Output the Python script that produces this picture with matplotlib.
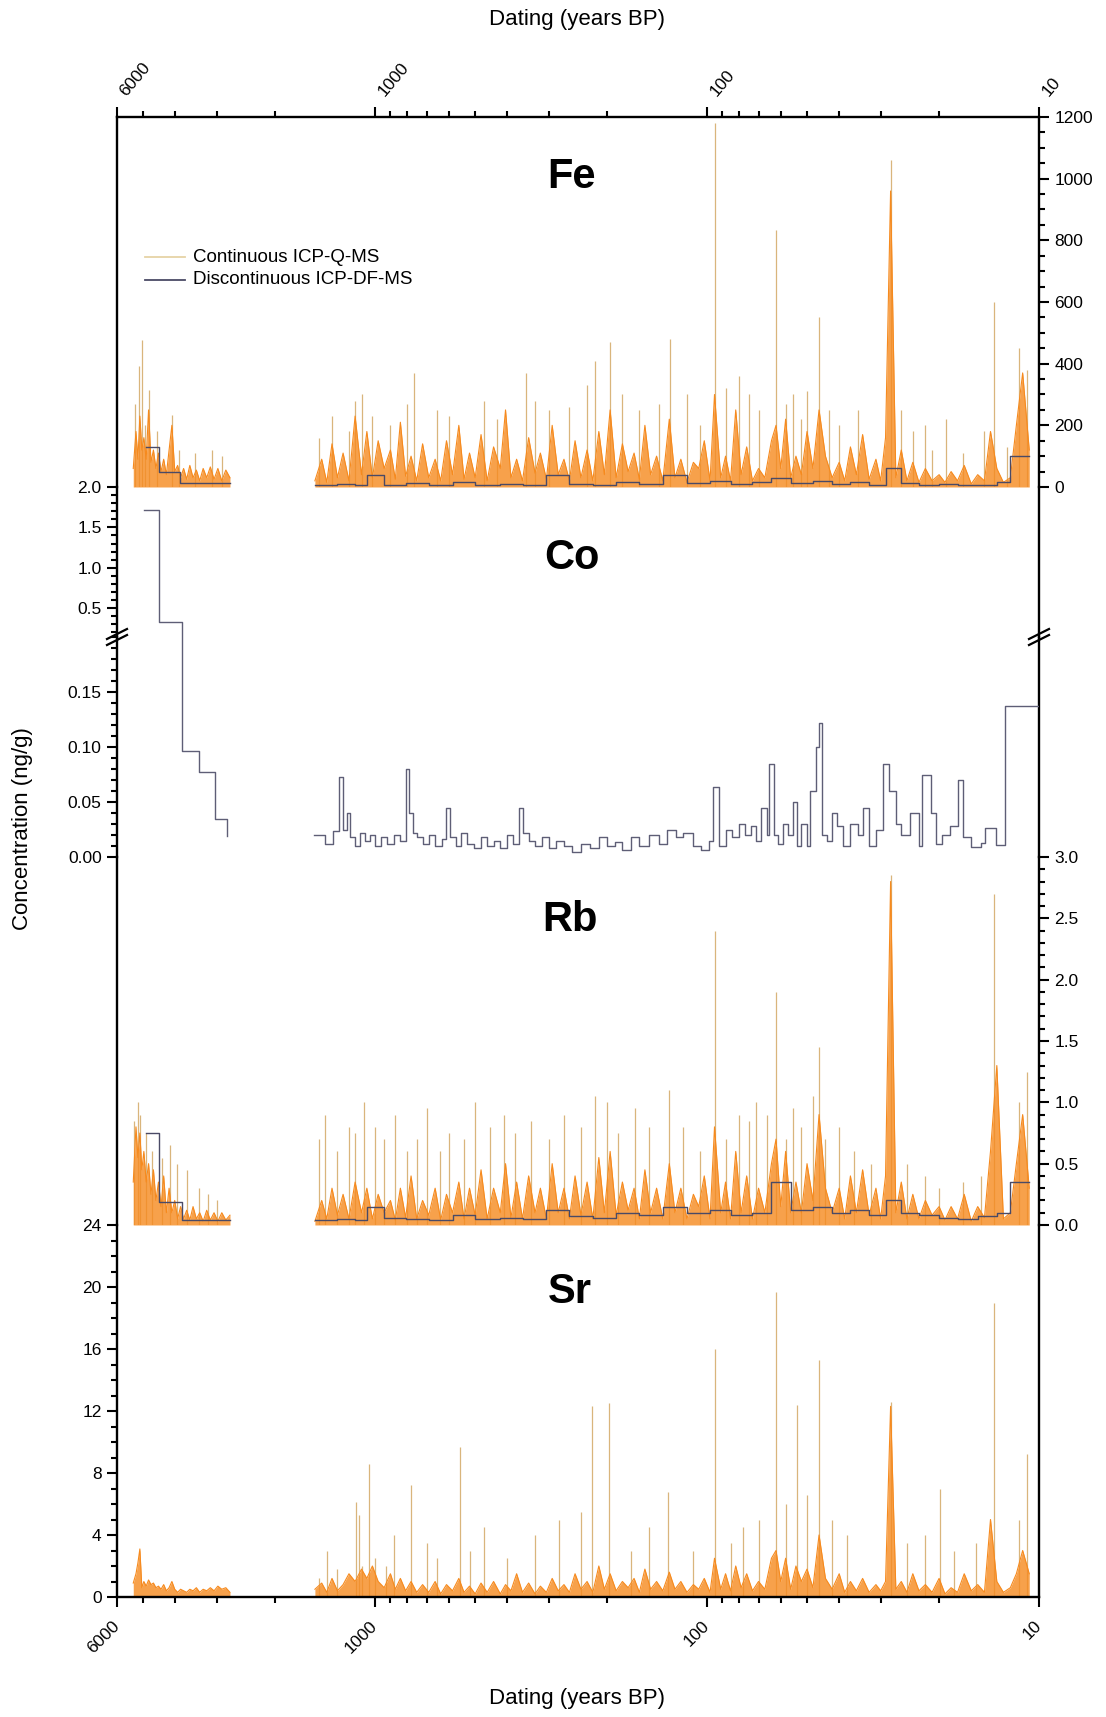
import numpy as np
import matplotlib
matplotlib.use('Agg')
import matplotlib.pyplot as plt
from matplotlib.ticker import FixedLocator, FixedFormatter, MultipleLocator, NullFormatter, NullLocator, FormatStrFormatter
from matplotlib.lines import Line2D

plt.rcParams['font.family'] = ['Liberation Sans', 'DejaVu Sans']

# ---------------- data ----------------
X_MAJOR = [6000, 1000, 100, 10]
X_MAJOR_LABELS = ['6000', '1000', '100', '10']
X_MINOR = [5000, 4000, 3000, 2000, 900, 800, 700, 600, 500, 400, 300, 200,
           90, 80, 70, 60, 50, 40, 30, 20]

# ages (years BP) of continuous record, older section and recent section
AGES_A = [5360, 5260, 5190, 5120, 5050, 4980, 4900, 4820, 4740, 4660,
          4580, 4500, 4420, 4340, 4260, 4180, 4100, 4020, 3940, 3860,
          3780, 3700, 3620, 3540, 3460, 3380, 3300, 3220, 3140, 3060,
          2980, 2900, 2820, 2740]
AGES_B = [1520, 1450, 1400, 1350, 1300, 1250, 1200, 1150, 1100, 1060,
          1020, 980, 940, 900, 870, 840, 810, 780, 750, 720,
          690, 660, 635, 610, 585, 560, 540, 520, 500, 480,
          460, 440, 420, 405, 390, 375, 360, 345, 330, 318,
          305, 293, 281, 270, 260, 250, 240, 230, 221, 212,
          204, 196, 188, 180, 173, 166, 160, 154, 148, 142,
          136, 130, 125, 120, 115, 110, 106, 102, 98, 95,
          91, 88, 85, 82, 79, 76, 73, 70, 67, 64,
          62, 60, 58, 56, 54, 52, 50, 48, 46, 44,
          42, 40, 38.5, 37, 35.5, 34, 32.5, 31, 30, 29,
          28, 27, 26, 25, 24, 23, 22, 21, 20, 19.2,
          18.4, 17.6, 16.8, 16, 15.3, 14.6, 14, 13.4, 12.8, 12.2,
          11.7, 11.2, 10.7]

# Fe continuous (ng/g)
FE_A = [60, 180, 90, 230, 120, 160, 90, 250, 80, 120,
        60, 110, 50, 90, 40, 120, 200, 50, 70, 30,
        60, 25, 70, 30, 55, 20, 60, 30, 65, 25,
        60, 20, 55, 30]
FE_B = [20, 90, 15, 140, 30, 110, 20, 230, 40, 180,
        30, 150, 60, 120, 25, 210, 35, 100, 20, 140,
        30, 90, 20, 150, 40, 200, 25, 110, 30, 170,
        20, 130, 60, 250, 30, 90, 20, 160, 45, 110,
        25, 200, 40, 90, 20, 150, 30, 120, 20, 180,
        40, 250, 30, 140, 50, 110, 25, 200, 40, 100,
        20, 220, 30, 90, 15, 80, 60, 150, 20, 300,
        30, 100, 20, 250, 40, 130, 20, 60, 30, 150,
        200, 60, 220, 30, 100, 40, 180, 60, 250, 100,
        30, 80, 20, 130, 40, 170, 25, 90, 20, 160,
        960, 30, 120, 20, 80, 15, 60, 20, 40, 15,
        50, 20, 70, 10, 40, 20, 180, 60, 15, 30,
        200, 370, 120]
FE_SPIKE_AGE = [5300, 5150, 5060, 4950, 4810, 4550, 4100, 3900, 3500, 3100, 2900,
                1480, 1350, 1200, 1150, 1100, 1020, 900, 800, 764, 650, 600, 470,
                430, 351, 330, 300, 260, 230, 218, 196, 180, 160, 140, 129, 115,
                105, 95, 88, 80, 75, 70, 62, 58, 55, 52, 50, 46, 43, 40, 35, 28,
                26, 24, 22, 21, 19, 17, 14.6, 13.7, 12.5, 11.5, 10.9]
FE_SPIKE_VAL = [270, 394, 476, 200, 313, 180, 232, 120, 110, 120, 100,
                160, 230, 180, 280, 300, 230, 200, 270, 370, 250, 230, 280,
                220, 370, 280, 250, 260, 330, 410, 470, 300, 250, 270, 480, 300,
                200, 1180, 320, 360, 300, 250, 835, 270, 300, 220, 310, 550, 250, 200, 250, 1060,
                250, 180, 200, 120, 220, 110, 180, 600, 130, 450, 380]
# Fe discontinuous (step values between age edges)
FE_D_EDGES_A = [4890, 4480, 3870, 2740]
FE_D_VALS_A = [130, 50, 12]
D_EDGES_B = [1520, 1300, 1150, 1060, 940, 810, 690, 585, 500, 420, 360, 305,
             260, 221, 188, 160, 136, 115, 98, 85, 73, 64, 56, 48, 42, 37,
             32.5, 29, 26, 23, 20, 17.6, 15.3, 13.4, 12.2, 10.7]
FE_D_VALS_B = [5, 10, 6, 40, 8, 12, 5, 15, 8, 10,
               6, 40, 10, 8, 15, 10, 40, 12, 20, 10,
               15, 30, 12, 20, 10, 15, 8, 60, 12, 8,
               10, 6, 8, 15, 100]

# Co discontinuous
CO_EDGES_A = [4975, 4480, 3820, 3390, 3050, 2800, 2790]
CO_VALS_A = [1.71, 0.33, 0.096, 0.077, 0.035, 0.019]
CO_EDGES_B = [1526, 1420, 1340, 1290, 1250, 1220, 1190, 1150, 1110, 1077,
              1040, 1000, 960, 920, 880, 840, 810, 790, 770, 750,
              720, 690, 660, 630, 613, 595, 570, 550, 530, 505,
              480, 460, 440, 420, 400, 385, 370, 358, 345, 330,
              315, 300, 285, 270, 255, 240, 225, 212, 200, 190,
              180, 170, 160, 150, 140, 132, 124, 118, 110, 104,
              99, 96, 92, 88, 84, 80, 77, 74, 71, 69,
              66, 65, 63, 61, 59, 57, 55, 53.5, 52, 50,
              49, 47, 46, 45, 43.5, 42, 40.5, 39, 37, 35,
              34, 32.5, 31, 29.5, 28.3, 27, 26, 24.5, 23, 22.5,
              21.2, 20.5, 19.6, 18.5, 17.5, 17.0, 16.0, 15.0, 14.5, 13.5,
              12.7, 10.0]
CO_VALS_B = [0.020, 0.012, 0.024, 0.073, 0.025, 0.040, 0.018, 0.010, 0.022, 0.015,
             0.020, 0.010, 0.018, 0.012, 0.020, 0.015, 0.080, 0.040, 0.022, 0.018,
             0.012, 0.020, 0.010, 0.016, 0.045, 0.018, 0.010, 0.022, 0.012, 0.008,
             0.018, 0.010, 0.015, 0.008, 0.020, 0.012, 0.045, 0.022, 0.015, 0.010,
             0.018, 0.008, 0.015, 0.010, 0.005, 0.012, 0.008, 0.018, 0.010, 0.014,
             0.006, 0.018, 0.010, 0.020, 0.012, 0.025, 0.018, 0.022, 0.010, 0.006,
             0.015, 0.064, 0.010, 0.025, 0.018, 0.030, 0.020, 0.028, 0.015, 0.045,
             0.020, 0.085, 0.020, 0.012, 0.030, 0.020, 0.050, 0.010, 0.030, 0.010,
             0.060, 0.100, 0.122, 0.020, 0.015, 0.040, 0.028, 0.010, 0.030, 0.020,
             0.045, 0.010, 0.025, 0.085, 0.060, 0.030, 0.020, 0.040, 0.010, 0.075,
             0.040, 0.012, 0.020, 0.028, 0.070, 0.018, 0.009, 0.013, 0.026, 0.011,
             0.137]

# Rb continuous
RB_A = [0.35, 0.8, 0.55, 0.75, 0.45, 0.6, 0.35, 0.5, 0.25, 0.45,
        0.2, 0.35, 0.15, 0.4, 0.1, 0.3, 0.1, 0.2, 0.05, 0.15,
        0.05, 0.12, 0.04, 0.15, 0.05, 0.1, 0.03, 0.12, 0.04, 0.1,
        0.03, 0.1, 0.04, 0.08]
RB_B = [0.03, 0.2, 0.05, 0.3, 0.08, 0.25, 0.05, 0.35, 0.1, 0.3,
        0.05, 0.25, 0.1, 0.2, 0.04, 0.3, 0.06, 0.4, 0.05, 0.2,
        0.08, 0.3, 0.04, 0.25, 0.1, 0.35, 0.05, 0.3, 0.08, 0.45,
        0.05, 0.3, 0.1, 0.5, 0.06, 0.35, 0.05, 0.4, 0.1, 0.3,
        0.05, 0.5, 0.1, 0.3, 0.05, 0.4, 0.08, 0.35, 0.05, 0.55,
        0.1, 0.6, 0.08, 0.35, 0.12, 0.3, 0.05, 0.45, 0.1, 0.3,
        0.05, 0.5, 0.1, 0.3, 0.05, 0.25, 0.15, 0.4, 0.05, 0.8,
        0.1, 0.35, 0.05, 0.6, 0.1, 0.4, 0.05, 0.3, 0.1, 0.5,
        0.7, 0.15, 0.6, 0.1, 0.35, 0.1, 0.5, 0.2, 0.9, 0.3,
        0.1, 0.3, 0.05, 0.4, 0.1, 0.45, 0.08, 0.3, 0.05, 0.4,
        2.8, 0.1, 0.35, 0.05, 0.25, 0.05, 0.2, 0.08, 0.15, 0.04,
        0.15, 0.05, 0.25, 0.03, 0.15, 0.06, 0.6, 1.3, 0.05, 0.1,
        0.5, 0.9, 0.3]
RB_SPIKE_AGE = [5330, 5200, 5100, 4900, 4700, 4400, 4150, 3950, 3700, 3400, 3200, 3000,
                1480, 1420, 1300, 1200, 1150, 1080, 1000, 940, 870, 800, 750, 700,
                640, 600, 540, 500, 450, 410, 380, 340, 300, 270, 240, 218, 200,
                185, 165, 150, 130, 118, 105, 95, 88, 80, 75, 71, 66, 62, 58, 55,
                52, 48, 46, 44, 40, 36, 32, 28, 25, 22, 20, 17, 15, 13.7, 11.5, 10.9]
RB_SPIKE_VAL = [0.85, 1.0, 0.9, 0.75, 0.6, 0.55, 0.65, 0.5, 0.45, 0.3, 0.25, 0.2,
                0.7, 0.9, 0.6, 0.8, 0.75, 1.0, 0.8, 0.7, 0.9, 0.6, 0.7, 0.95,
                0.6, 0.75, 0.7, 1.0, 0.8, 0.9, 0.75, 0.85, 0.7, 0.9, 0.8, 1.05, 1.0,
                0.75, 0.95, 0.8, 1.1, 0.8, 0.6, 2.4, 0.7, 0.9, 0.85, 1.0, 0.9, 1.9, 0.7, 0.95,
                0.8, 1.05, 1.45, 0.7, 0.8, 0.6, 0.5, 2.85, 0.5, 0.4, 0.3, 0.35, 0.4, 2.7, 1.0, 1.25]
RB_D_EDGES_A = [4920, 4480, 3820, 2740]
RB_D_VALS_A = [0.75, 0.19, 0.04]
RB_D_VALS_B = [0.04, 0.05, 0.04, 0.15, 0.06, 0.05, 0.04, 0.08, 0.05, 0.06,
               0.05, 0.12, 0.07, 0.06, 0.1, 0.08, 0.15, 0.1, 0.12, 0.08,
               0.1, 0.35, 0.12, 0.15, 0.1, 0.12, 0.08, 0.2, 0.1, 0.08,
               0.06, 0.05, 0.07, 0.1, 0.35]

# Sr continuous
SR_A = [0.9, 1.5, 2.2, 3.1, 0.6, 1.0, 0.7, 1.1, 0.8, 0.9,
        0.6, 0.7, 0.5, 0.8, 0.4, 0.6, 1.0, 0.5, 0.3, 0.5,
        0.4, 0.3, 0.5, 0.4, 0.6, 0.3, 0.5, 0.4, 0.6, 0.4,
        0.7, 0.5, 0.6, 0.3]
SR_B = [0.5, 0.9, 0.3, 1.2, 0.4, 0.8, 1.5, 1.0, 1.8, 1.2,
        2.0, 1.0, 0.6, 1.5, 0.5, 1.2, 0.4, 1.0, 0.3, 0.8,
        0.3, 1.0, 0.2, 0.8, 0.4, 1.2, 0.3, 0.7, 0.2, 0.9,
        0.3, 1.0, 0.2, 0.8, 0.4, 1.5, 0.3, 0.9, 0.2, 0.7,
        0.3, 1.2, 0.4, 0.8, 0.3, 1.5, 0.5, 1.0, 0.3, 2.0,
        0.5, 1.5, 0.4, 1.0, 0.6, 1.2, 0.3, 1.8, 0.5, 1.0,
        0.4, 1.6, 0.5, 1.0, 0.3, 0.8, 0.5, 1.2, 0.3, 2.5,
        0.5, 1.5, 0.4, 2.0, 0.6, 1.5, 0.4, 1.0, 0.5, 2.5,
        3.0, 1.0, 2.5, 0.5, 2.0, 1.0, 1.8, 0.6, 4.0, 1.2,
        0.5, 1.5, 0.3, 1.0, 0.4, 1.2, 0.3, 0.8, 0.4, 1.0,
        12.3, 0.5, 1.0, 0.3, 1.5, 0.4, 0.8, 0.3, 1.2, 0.2,
        0.6, 0.3, 1.5, 0.4, 0.8, 0.3, 5.0, 1.0, 0.3, 0.6,
        1.5, 3.0, 1.5]
SR_SPIKE_AGE = [1480, 1400, 1300, 1143, 1120, 1100, 1044, 1000, 930, 880, 782, 700,
                650, 556, 520, 470, 400, 330, 280, 240, 222, 198, 170, 150, 131,
                110, 95, 85, 78, 70, 62, 58, 53.5, 50, 46, 42, 38, 28, 25, 22,
                19.9, 18, 15.5, 13.7, 11.5, 10.9]
SR_SPIKE_VAL = [1.2, 3.0, 1.8, 6.1, 5.3, 2.0, 8.6, 2.5, 2.0, 4.0, 7.2, 3.5,
                2.5, 9.7, 3.0, 4.5, 2.5, 4.0, 5.0, 5.5, 12.3, 12.5, 3.0, 4.5, 6.8,
                3.0, 16.0, 3.5, 4.5, 5.0, 19.7, 6.0, 12.4, 6.6, 15.3, 5.0, 4.0, 12.6, 3.5, 4.0,
                7.0, 3.0, 3.5, 19.0, 5.0, 9.2]

# ---------------- styling / layout ----------------
ORANGE = '#F68A1E'
TAN = '#D9B57C'
LEG_TAN = '#E6D3A6'
DISC = '#4A4A66'
CO_COL = '#5E5E76'

W_PX, H_PX = 1106, 1717
fig = plt.figure(figsize=(W_PX / 100, H_PX / 100), dpi=100)


def fx(px):
    return px / W_PX


def fy(py):
    return 1 - py / H_PX


X0, X1 = 117, 1039


def add_panel(top, bot):
    return fig.add_axes([fx(X0), fy(bot), fx(X1) - fx(X0), (bot - top) / H_PX])


ax_fe = add_panel(117, 487)
ax_cu = add_panel(487, 637)
ax_cl = add_panel(637, 857)
ax_rb = add_panel(857, 1225)
ax_sr = add_panel(1225, 1597)
axes = [ax_fe, ax_cu, ax_cl, ax_rb, ax_sr]

for ax in axes:
    ax.set_xscale('log')
    ax.set_xlim(6000, 10)
    ax.patch.set_alpha(0)
    for s in ax.spines.values():
        s.set_linewidth(1.7)
    ax.spines['top'].set_visible(False)
    ax.spines['bottom'].set_visible(False)
    ax.xaxis.set_major_locator(NullLocator())
    ax.xaxis.set_minor_locator(NullLocator())
    ax.tick_params(axis='both', which='both', direction='out', width=1.5,
                   labelsize=12.5, pad=4)
    ax.tick_params(which='major', length=7)
    ax.tick_params(which='minor', length=4)

# x axes (top of Fe, bottom of Sr)
for ax, pos in ((ax_fe, 'top'), (ax_sr, 'bottom')):
    ax.spines[pos].set_visible(True)
    ax.xaxis.set_ticks_position(pos)
    ax.xaxis.set_major_locator(FixedLocator(X_MAJOR))
    ax.xaxis.set_minor_locator(FixedLocator(X_MINOR))
    ax.xaxis.set_major_formatter(FixedFormatter(X_MAJOR_LABELS))
    ax.xaxis.set_minor_formatter(NullFormatter())
    ax.tick_params(axis='x', which='both', labelsize=12.5)
ax_fe.tick_params(axis='x', which='both', top=True, bottom=False, labeltop=True,
                  labelbottom=False, pad=6)
ax_sr.tick_params(axis='x', which='both', top=False, bottom=True, labeltop=False,
                  labelbottom=True, pad=12)
for lab in ax_fe.get_xticklabels(which='major'):
    lab.set_rotation(50)
    lab.set_ha('left')
    lab.set_va('bottom')
for lab in ax_sr.get_xticklabels(which='major'):
    lab.set_rotation(45)
    lab.set_ha('right')
    lab.set_va('center')
    lab.set_rotation_mode('anchor')

# y axes
ax_fe.yaxis.set_ticks_position('right')
ax_fe.set_ylim(0, 1200)
ax_fe.yaxis.set_major_locator(MultipleLocator(200))
ax_fe.yaxis.set_minor_locator(MultipleLocator(50))

ax_cu.yaxis.set_ticks_position('left')
ax_cu.set_ylim(0.144, 2.0)
ax_cu.yaxis.set_major_locator(FixedLocator([0.5, 1.0, 1.5, 2.0]))
ax_cu.yaxis.set_minor_locator(MultipleLocator(0.1))
ax_cu.yaxis.set_major_formatter(FormatStrFormatter('%.1f'))

ax_cl.yaxis.set_ticks_position('left')
ax_cl.set_ylim(0, 0.2)
ax_cl.yaxis.set_major_locator(FixedLocator([0.0, 0.05, 0.10, 0.15]))
ax_cl.yaxis.set_minor_locator(MultipleLocator(0.01))
ax_cl.yaxis.set_major_formatter(FormatStrFormatter('%.2f'))

ax_rb.yaxis.set_ticks_position('right')
ax_rb.set_ylim(0, 3.0)
ax_rb.yaxis.set_major_locator(MultipleLocator(0.5))
ax_rb.yaxis.set_minor_locator(MultipleLocator(0.1))
ax_rb.yaxis.set_major_formatter(FormatStrFormatter('%.1f'))

ax_sr.yaxis.set_ticks_position('left')
ax_sr.set_ylim(0, 24)
ax_sr.yaxis.set_major_locator(MultipleLocator(4))
ax_sr.yaxis.set_minor_locator(MultipleLocator(1))
ax_sr.yaxis.set_major_formatter(FormatStrFormatter('%d'))


# ---------------- plotting ----------------
def plot_cont(ax, va, vb, sp_age, sp_val):
    ax.vlines(sp_age, 0, sp_val, color=TAN, lw=0.9, zorder=1)
    for a, v in ((AGES_A, va), (AGES_B, vb)):
        ax.fill_between(a, 0, v, color=ORANGE, lw=0, alpha=0.8, zorder=2)
        ax.plot(a, v, color=ORANGE, lw=0.8, zorder=2)


def plot_steps(ax, edges, vals, color=DISC, lw=1.0):
    ax.step(edges, list(vals) + [vals[-1]], where='post', color=color, lw=lw, zorder=3)


plot_cont(ax_fe, FE_A, FE_B, FE_SPIKE_AGE, FE_SPIKE_VAL)
plot_steps(ax_fe, FE_D_EDGES_A, FE_D_VALS_A)
plot_steps(ax_fe, D_EDGES_B, FE_D_VALS_B)

for ax in (ax_cu, ax_cl):
    plot_steps(ax, CO_EDGES_A, CO_VALS_A, color=CO_COL, lw=1.0)
    plot_steps(ax, CO_EDGES_B, CO_VALS_B, color=CO_COL, lw=1.0)

plot_cont(ax_rb, RB_A, RB_B, RB_SPIKE_AGE, RB_SPIKE_VAL)
plot_steps(ax_rb, RB_D_EDGES_A, RB_D_VALS_A)
plot_steps(ax_rb, D_EDGES_B, RB_D_VALS_B)

plot_cont(ax_sr, SR_A, SR_B, SR_SPIKE_AGE, SR_SPIKE_VAL)

# ---------------- annotations ----------------
for name, (px, py) in {'Fe': (572, 177), 'Co': (572, 558), 'Rb': (570, 920), 'Sr': (570, 1292)}.items():
    fig.text(fx(px), fy(py), name, ha='center', va='center', fontsize=30, fontweight='bold')

fig.text(fx(577), fy(20), 'Dating (years BP)', ha='center', va='center', fontsize=16)
fig.text(fx(577), fy(1698), 'Dating (years BP)', ha='center', va='center', fontsize=16)
fig.text(fx(23), fy(829), 'Concentration (ng/g)', ha='center', va='center', rotation=90, fontsize=16)

# legend
for (py, col, txt) in ((257, LEG_TAN, 'Continuous ICP-Q-MS'), (280, DISC, 'Discontinuous ICP-DF-MS')):
    fig.add_artist(Line2D([fx(145), fx(185)], [fy(py), fy(py)], transform=fig.transFigure,
                          color=col, lw=1.3))
    fig.text(fx(193), fy(py), txt, ha='left', va='center', fontsize=13.5)

# axis-break marks
for xc in (X0, X1):
    for off in (-3, 3):
        fig.add_artist(Line2D([fx(xc - 10), fx(xc + 10)], [fy(642 + off), fy(632 + off)],
                              transform=fig.transFigure, color='black', lw=1.6))

fig.savefig('out.png', dpi=100)
